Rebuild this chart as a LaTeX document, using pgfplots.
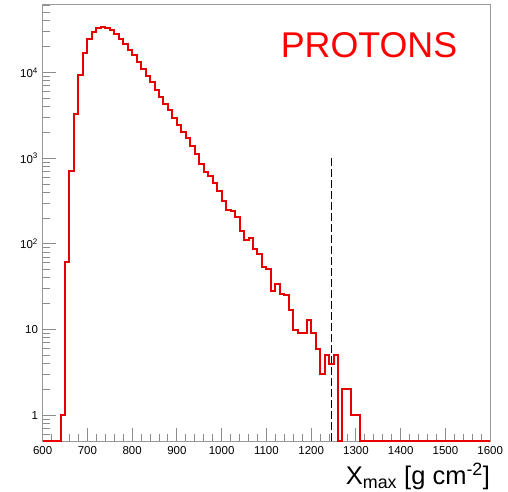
\documentclass[border=0pt]{standalone}
\usepackage{fontspec}
\setmainfont{Liberation Sans}
\usepackage{pgfplots}
\pgfplotsset{compat=1.18}
\definecolor{rootred}{RGB}{230,0,0}
\begin{document}
\begin{tikzpicture}[x=1pt,y=1pt]
\path[use as bounding box] (0,0) rectangle (508,491);
\begin{axis}[
  at={(42.6pt,50pt)}, anchor=south west,
  scale only axis, width=447.6pt, height=437pt,
  xmin=600, xmax=1600, ymode=log, ymin=0.5, ymax=63000,
  axis line style={black!40, line width=0.9pt},
  tick style={black!45, line width=0.9pt},
  tick align=inside, tick pos=left,
  major tick length=13.5pt, minor tick length=7pt,
  xtick={600,700,...,1600}, minor x tick num=4,
  ytick={1,10,100,1000,10000},
  yticklabels={1,10,10\textsuperscript{2},10\textsuperscript{3},10\textsuperscript{4}},
  minor ytick={0.5,0.6,0.7,0.8,0.9,2,3,4,5,6,7,8,9,20,30,40,50,60,70,80,90,200,300,400,500,600,700,800,900,2000,3000,4000,5000,6000,7000,8000,9000,20000,30000,40000,50000,60000},
  /pgf/number format/assume math mode=true,
  /pgf/number format/1000 sep={},
  xticklabel style={font=\fontsize{11.5}{12}\selectfont, inner sep=0pt, anchor=north, yshift=-5.5pt},
  yticklabel style={font=\fontsize{11.5}{12}\selectfont, inner sep=0pt, anchor=east, xshift=-4.5pt},
  xlabel={X\textsubscript{max} [g cm\textsuperscript{-2}]},
  x label style={at={(axis description cs:1,0)}, anchor=base east, inner sep=0pt, yshift=-43.6pt, font=\fontsize{25.5}{26}\selectfont},
]
\addplot[rootred, line width=2pt, const plot, mark=none] table[row sep=\\] {
x y\\
600 0.5\\ 640 1\\ 650 61\\ 660 710\\ 670 3300\\ 680 9300\\ 690 16900\\
700 24800\\ 710 29700\\ 720 33000\\ 730 33900\\ 740 33000\\ 750 31000\\
760 27900\\ 770 24800\\ 780 21700\\ 790 18150\\ 800 15850\\ 810 13250\\
820 11100\\ 830 9040\\ 840 7740\\ 850 6300\\ 860 5180\\ 870 4330\\
880 3620\\ 890 2980\\ 900 2420\\ 910 2020\\ 920 1720\\ 930 1375\\
940 1110\\ 950 865\\ 960 690\\ 970 615\\ 980 510\\ 990 412\\
1000 320\\ 1010 251\\ 1020 240\\ 1030 206\\ 1040 141\\ 1050 110\\
1060 118\\ 1070 86\\ 1080 77\\ 1090 53\\ 1100 51\\ 1110 28\\
1120 34\\ 1130 26\\ 1140 25\\ 1150 17\\ 1160 10\\ 1170 9\\
1180 9\\ 1190 13\\ 1200 9\\ 1210 6\\ 1220 3\\ 1230 5\\
1240 4\\ 1250 5\\ 1260 0.5\\ 1270 2\\ 1280 2\\ 1290 1\\
1300 1\\ 1310 0.5\\ 1600 0.5\\
};
\addplot[black, line width=1.1pt, dash pattern=on 8pt off 3pt] coordinates {(1246,0.5) (1246,1000)};
\end{axis}
\node[anchor=base west, inner sep=0pt, text=red, font=\fontsize{35.8}{36}\selectfont] at (280.6,433.7) {PROTONS};
\end{tikzpicture}
\end{document}
